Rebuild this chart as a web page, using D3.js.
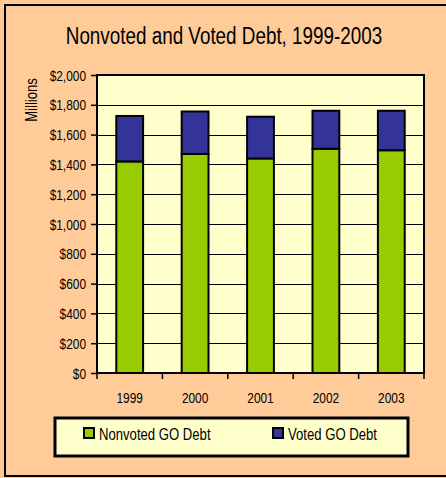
<!DOCTYPE html>
<html><head><meta charset="utf-8">
<script src="https://cdn.jsdelivr.net/npm/d3@7/dist/d3.min.js"></script>
<style>
html,body{margin:0;padding:0;background:#FFCC99;}
svg{display:block;}
text{font-family:"Liberation Sans",Arial,sans-serif;fill:#000;}
</style></head>
<body>
<svg id="chart" width="446" height="478"></svg>
<script>
const title = "Nonvoted and Voted Debt, 1999-2003";
const years = ["1999","2000","2001","2002","2003"];
const nonvoted = [1420, 1470, 1440, 1505, 1495];
const voted = [305, 285, 280, 255, 265];
const seriesNames = ["Nonvoted GO Debt","Voted GO Debt"];
const seriesColors = ["#99CC00","#333399"];
const yTicks = [0,200,400,600,800,1000,1200,1400,1600,1800,2000];
const yLabel = "Millions";

const NARROW = 0.82;
const svg = d3.select("#chart");
const W = 446, H = 478;

function ntext(parent, x, yy, str, size, anchor, rot){
  return parent.append("text")
    .attr("transform",`translate(${x},${yy})${rot?" rotate("+rot+")":""} scale(${NARROW},1)`)
    .attr("text-anchor",anchor||"start").attr("font-size",size).text(str);
}

svg.append("rect").attr("x",0).attr("y",0).attr("width",W).attr("height",H).attr("fill","#FFCC99");
svg.append("rect").attr("x",5).attr("y",5).attr("width",446).attr("height",471)
  .attr("fill","none").attr("stroke","#000").attr("stroke-width",2);

ntext(svg, 224, 44, title, 23, "middle");

const plot = {l:97, r:424, t:75, b:373};
const x = d3.scaleBand().domain(years).range([plot.l, plot.r]).paddingInner(0.59).paddingOuter(0.295);
const y = d3.scaleLinear().domain([0,2000]).range([plot.b, plot.t]);

svg.append("rect").attr("x",plot.l).attr("y",plot.t).attr("width",plot.r-plot.l).attr("height",plot.b-plot.t)
  .attr("fill","#FFFFCC");

svg.append("g").selectAll("line").data(yTicks.slice(1)).join("line")
  .attr("x1",plot.l).attr("x2",plot.r).attr("y1",d=>Math.round(y(d))+0.5).attr("y2",d=>Math.round(y(d))+0.5)
  .attr("stroke","#000").attr("stroke-width",1);

const stackData = years.map((yr,i)=>({year:yr, nonvoted:nonvoted[i], voted:voted[i]}));
const stack = d3.stack().keys(["nonvoted","voted"])(stackData);
svg.append("g").selectAll("g").data(stack).join("g")
  .attr("fill",(d,i)=>seriesColors[i])
  .selectAll("rect").data(d=>d).join("rect")
  .attr("x",d=>x(d.data.year)).attr("width",x.bandwidth())
  .attr("y",d=>y(d[1])).attr("height",d=>y(d[0])-y(d[1]))
  .attr("stroke","#000").attr("stroke-width",2);

svg.append("rect").attr("x",plot.l).attr("y",plot.t).attr("width",plot.r-plot.l).attr("height",plot.b-plot.t)
  .attr("fill","none").attr("stroke","#000").attr("stroke-width",2);

const yAxis = d3.axisLeft(y).tickValues(yTicks).tickSize(6).tickPadding(5)
  .tickFormat(d=>"$"+d3.format(",")(d));
const gy = svg.append("g").attr("transform",`translate(${plot.l},0)`).call(yAxis);
gy.select(".domain").remove();
gy.selectAll("line").attr("stroke","#000").attr("stroke-width",1.5);
gy.selectAll("text").attr("x",0).attr("dy","0.35em").attr("font-size",14.5)
  .attr("font-family","'Liberation Sans',Arial,sans-serif")
  .attr("transform",`translate(-11,0) scale(${NARROW},1)`);

const bounds = d3.range(years.length+1).map(i=>plot.l + i*(plot.r-plot.l)/years.length);
svg.append("g").selectAll("line").data(bounds).join("line")
  .attr("x1",d=>d).attr("x2",d=>d).attr("y1",plot.b).attr("y2",plot.b+6)
  .attr("stroke","#000").attr("stroke-width",1.5);
const gx = svg.append("g");
years.forEach(d=>ntext(gx, x(d)+x.bandwidth()/2, 403, d, 14.5, "middle"));

ntext(svg, 37, 100, yLabel, 16, "middle", -90);

svg.append("rect").attr("x",55).attr("y",418).attr("width",353).attr("height",38)
  .attr("fill","#FFFFCC").attr("stroke","#000").attr("stroke-width",3);
const legX = [84, 273];
seriesNames.forEach((name,i)=>{
  const g = svg.append("g").attr("transform",`translate(${legX[i]},428)`);
  g.append("rect").attr("width",10).attr("height",10).attr("fill",seriesColors[i])
    .attr("stroke","#000").attr("stroke-width",2);
  ntext(g, 15, 11.5, name, 16, "start");
});
</script>
</body></html>
